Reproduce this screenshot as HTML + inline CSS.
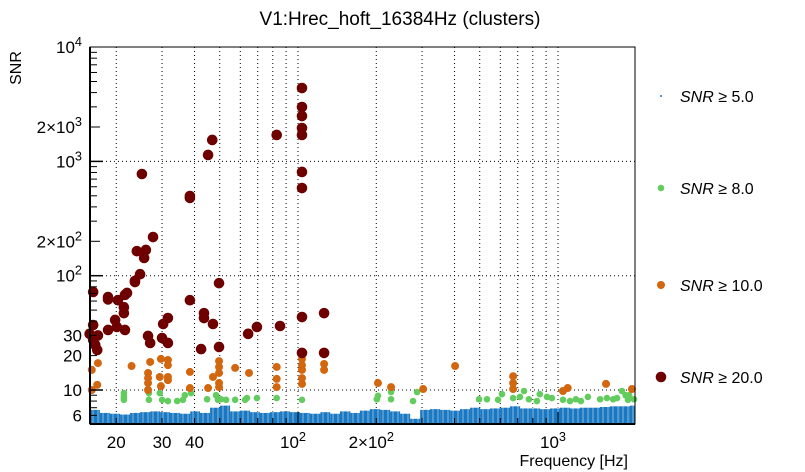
<!DOCTYPE html>
<html><head><meta charset="utf-8"><style>
html,body{margin:0;padding:0;background:#fff;}
svg{display:block;font-family:"Liberation Sans",sans-serif;}
</style></head><body>
<svg id="chart" width="805" height="472" viewBox="0 0 805 472">
<rect x="0" y="0" width="805" height="472" fill="#fff"/>
<text x="400" y="25" font-size="19" text-anchor="middle" fill="#000">V1:Hrec_hoft_16384Hz (clusters)</text>
<g id="grid"></g>
<g id="blue"></g>
<g id="green"></g>
<g id="orange"></g>
<g id="red"></g>
<g id="axes"></g>
<text x="21" y="68" font-size="16" text-anchor="middle" transform="rotate(-90 21 68)">SNR</text>
<text x="628" y="466" font-size="16" text-anchor="end">Frequency [Hz]</text>
<g id="legend"></g>
</svg>
<script>
const blueEdges=[15.85,17.3,18.9,20.7,22.6,24.7,27.0,29.5,32.2,35.2,38.5,42.0,45.9,50.1,54.8,59.8,65.4,71.4,78.0,85.3,93.2,101.8,111,122,133,145,159,173,189,207,226,247,270,295,322,352,385,420,459,502,548,599,654,715,781,853,932,1018,1112,1215,1327,1450,1584,1730,1890,1980];
const blueSNR=[6.7,6.3,6.2,6.1,6.3,6.4,6.5,6.4,6.3,6.2,6.5,6.3,7.0,7.3,6.5,6.6,6.4,6.3,6.4,6.5,6.4,6.3,6.2,6.4,6.2,6.5,6.3,6.6,6.8,6.7,6.5,6.2,5.6,6.7,6.8,6.7,6.6,6.8,7.0,6.8,6.9,7.0,7.2,6.9,6.9,6.8,6.9,7.0,6.9,7.0,7.0,7.1,7.2,7.2,7.3];
const greenF=[21.4,21.4,21.4,21.4,26.7,26.7,29.4,30.0,31.6,34.3,36.1,36.7,38.8,44.7,48.4,49.2,50.6,52.9,57.3,62.6,63.6,69.5,82.8,103.6,201,203,228,228,277,287,497,533,588,609,672,714,740,773,830,851,907,947,1045,1112,1172,1225,1303,1452,1542,1629,1687,1762,1820,1858,1877,1960];
const greenS=[9.4,8.9,8.5,8.2,9.4,8.2,9.4,8.2,8.0,8.0,8.2,9.0,9.4,8.3,9.0,8.2,8.3,8.2,8.2,8.2,8.5,8.5,8.5,8.2,8.3,8.9,9.6,8.3,8.0,9.6,8.3,8.3,8.2,9.2,8.5,8.7,9.8,8.3,8.0,9.2,8.7,8.5,8.2,8.0,8.3,8.0,8.7,8.3,8.5,8.3,8.5,9.8,9.0,8.2,9.0,8.3];
const orangeF=[16.1,17.0,16.1,16.9,22.9,27.0,26.5,26.5,26.5,26.5,29.7,29.4,29.7,31.6,31.6,31.6,31.6,38.4,38.4,45.1,47.1,49.7,49.7,49.7,49.7,49.7,57.3,64.8,82.8,82.8,82.8,103.6,103.6,103.6,103.6,103.6,126,126,203,228,303,402,672,672,672,1045,1090,1530,1925];
const orangeS=[15.0,17.2,10.0,11.1,16.2,17.6,14.1,12.7,11.5,10.0,18.7,13.0,10.8,18.3,16.5,13.0,12.2,14.4,10.4,10.4,13.0,17.9,15.9,14.1,11.5,10.6,15.6,14.1,15.9,12.5,10.6,18.7,16.5,15.0,12.7,11.3,16.9,15.0,11.5,10.6,10.2,16.2,13.2,11.5,10.2,9.8,10.4,11.3,10.2];
const redF=[16.3,18.6,18.6,20.3,21.6,23.6,21.4,21.4,16.3,15.8,17.0,16.3,16.6,16.9,18.6,19.8,20.1,21.6,26.5,27.0,30.0,31.6,30.3,31.6,38.4,43.5,43.5,47.1,42.4,49.7,49.7,64.3,69.5,85.3,103.6,103.6,126,126,25.1,27.7,24.0,26.0,25.6,38.4,38.4,45.1,46.8,82.8,103.6,103.6,103.6,103.6,103.6,103.6,103.6,22.0,24.7,23.6];
const redS=[72,65,62,61,68,88,53,47,37,31,30,27.4,24.8,22.4,33.5,41,35.6,33.5,29.7,25.8,28.5,25.8,37.8,42.6,61,47,42.6,37.8,22.8,23.8,86,31,35.6,36.3,43.5,21.1,47,21.1,776,218,164,168,143,498,479,1138,1540,1703,4385,2992,2495,1960,1703,808,585,70.6,103,90];
const yTickVals=[10000,2000,1000,200,100,30,20,10,6];
const yTickLabels=["10^4","2×10^3","10^3","2×10^2","10^2","30","20","10","6"];
const xTickVals=[20,30,40,100,200,1000];
const xTickLabels=["20","30","40","10^2","2×10^2","10^3"];
const legendLabels=["5.0","8.0","10.0","20.0"];

const NS="http://www.w3.org/2000/svg";
const L=90,R=635,T=47,B=424;
const X=f=>L+(Math.log10(f)-1.2)*260;
const Y=s=>390-(Math.log10(s)-1)*114.3;
function mk(tag,attrs,parent){const e=document.createElementNS(NS,tag);for(const k in attrs)e.setAttribute(k,attrs[k]);parent.appendChild(e);return e;}
function clipX(x){return Math.max(L,Math.min(R,x));}

const grid=document.getElementById('grid');
const gx=[20,30,40,50,60,70,80,90,100,200,300,400,500,600,700,800,900,1000];
gx.forEach(f=>{const x=X(f);
  const ln=mk('line',{x1:x,x2:x,y1:T,y2:B,stroke:'#000','stroke-width':1,'stroke-dasharray':'1,3'},grid);
  
  
});
[10,100,1000].forEach(s=>{const y=Y(s);
  const ln=mk('line',{x1:L,x2:R,y1:y,y2:y,stroke:'#000','stroke-width':1,'stroke-dasharray':'1,3'},grid);
  
  
});

const blue=document.getElementById('blue');
for(let i=0;i<blueSNR.length;i++){
  const x1=clipX(X(blueEdges[i])),x2=clipX(X(blueEdges[i+1]));
  const y=Y(blueSNR[i]);
  const r=mk('rect',{x:x1,y:y,width:Math.max(0,x2-x1),height:B-y,fill:'#1a78c2'},blue);
  
  
}
for(let x=L+3;x<R;x+=5){
  const ln=mk('line',{x1:x,x2:x,y1:Y(7.5),y2:B,stroke:'#fff','stroke-width':0.8,opacity:0.6},blue);
  
  
}
function dots(id,F,S,r,col,name){
  const g=document.getElementById(id);
  for(let i=0;i<F.length;i++){
    const c=mk('circle',{cx:X(F[i]),cy:Y(S[i]),r:r,fill:col},g);
    
    
  }
}
dots('green',greenF,greenS,3.3,'#63cc5f','snr-8-point');
dots('orange',orangeF,orangeS,4,'#d2670f','snr-10-point');
dots('red',redF,redS,5.3,'#6e0000','snr-20-point');

const ax=document.getElementById('axes');
mk('rect',{x:L,y:T,width:R-L,height:B-T,fill:'none',stroke:'#000','stroke-width':1},ax);
mk('line',{x1:L,x2:L,y1:T,y2:B,stroke:'#000','stroke-width':2},ax);
mk('line',{x1:L,x2:R,y1:B,y2:B,stroke:'#000','stroke-width':2},ax);
[6,7,8,9,20,30,40,50,60,70,80,90,200,300,400,500,600,700,800,900,2000,3000,4000,5000,6000,7000,8000,9000].forEach(s=>{
  const y=Y(s);if(y>B||y<T)return;
  const t=mk('line',{x1:L,x2:L+(s===2000||s===200?10:7),y1:y,y2:y,stroke:'#000','stroke-width':1},ax);
  
  
});
[10,100,1000].forEach(s=>{const y=Y(s);
  const t=mk('line',{x1:L,x2:L+13,y1:y,y2:y,stroke:'#000','stroke-width':1.5},ax);
  
  
});
gx.forEach(f=>{const x=X(f);
  const t=mk('line',{x1:x,x2:x,y1:B,y2:B-(f===100||f===1000?12:6),stroke:'#000','stroke-width':1},ax);
  
  
});
function label(txt,x,y,anchor,size,parent){
  const t=mk('text',{x:x,y:y,'text-anchor':anchor,'font-size':size,fill:'#000'},parent);
  const p=txt.split('^');
  t.textContent=p[0];
  if(p[1]){const s=mk('tspan',{dy:-7,'font-size':size*0.75},t);s.textContent=p[1];}
  return t;
}
yTickVals.forEach((v,i)=>{
  const t=label(yTickLabels[i],82,Y(v)+6,'end',17,ax);
  
  
});
xTickVals.forEach((v,i)=>{
  const hasExp=xTickLabels[i].includes('^');
  const t=label(xTickLabels[i],X(v)-(hasExp?5:0),448,'middle',17,ax);
  
  
});

const lg=document.getElementById('legend');
const lcol=['#1a78c2','#63cc5f','#d2670f','#6e0000'];
const lr=[1,3.3,4,5.3];
const ly=[96,188,285,377];
legendLabels.forEach((lab,i)=>{
  const g=mk('g',{},lg);
  
  
  mk('circle',{cx:661,cy:ly[i],r:lr[i],fill:lcol[i]},g);
  const t=mk('text',{x:680,y:ly[i]+6,'font-size':16,fill:'#000'},g);
  const s=mk('tspan',{'font-style':'italic'},t);s.textContent='SNR';
  const s2=mk('tspan',{},t);s2.textContent=' ≥ '+lab;
});
</script>
</body></html>
